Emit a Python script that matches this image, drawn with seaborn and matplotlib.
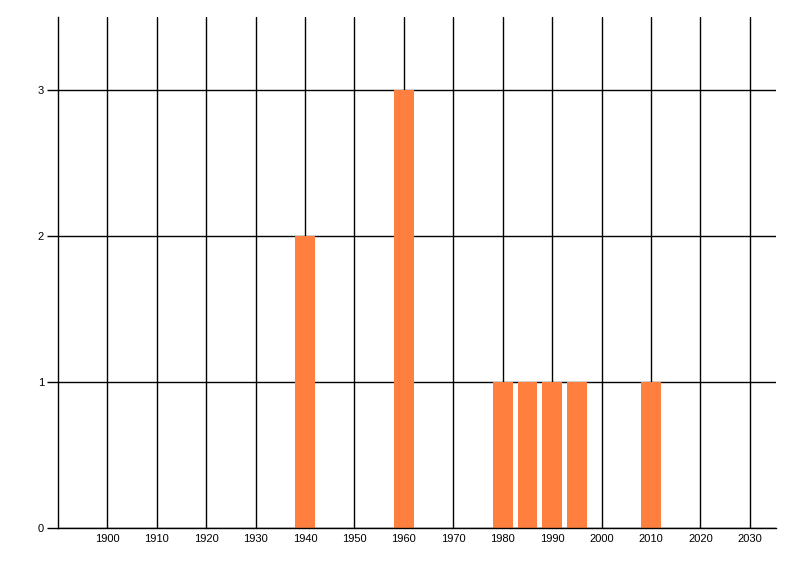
import matplotlib
matplotlib.use("Agg")
import matplotlib.pyplot as plt
import seaborn as sns
import pandas as pd

years = [1940, 1960, 1980, 1985, 1990, 1995, 2010]
counts = [2, 3, 1, 1, 1, 1, 1]
xticks = list(range(1900, 2031, 10))
yticks = [0, 1, 2, 3]

sns.set_style("white")
plt.rcParams['font.family'] = ['Liberation Sans', 'DejaVu Sans']

df = pd.DataFrame({"year": years, "count": counts})

fig = plt.figure(figsize=(8, 5.76), dpi=100)
ax = fig.add_axes([58/800, 48/576, 718/800, 511/576])

sns.barplot(data=df, x="year", y="count", native_scale=True, width=0.8,
            color="#FF7F3F", saturation=1, linewidth=0, ax=ax)

ax.set_xlim(1890, 2035.3)
ax.set_ylim(0, 3.5)
ax.set_xticks(xticks)
ax.set_yticks(yticks)
ax.set_xticklabels([str(t) for t in xticks], fontsize=8)
ax.set_yticklabels([str(t) for t in yticks], fontsize=8)
ax.set_xlabel("")
ax.set_ylabel("")

# grid drawn under the bars
ax.set_axisbelow(True)
ax.grid(True, color="black", linewidth=1)
ax.tick_params(axis="x", length=0, pad=4, labelcolor="black")
ax.tick_params(axis="y", left=True, length=8, width=1, color="black",
               pad=2, labelcolor="black")

for side in ["top", "right"]:
    ax.spines[side].set_visible(False)
ax.spines["left"].set_color("black")
ax.spines["bottom"].set_color("black")
ax.spines["left"].set_linewidth(1)
ax.spines["bottom"].set_linewidth(1)

fig.savefig("out.png", dpi=100)
